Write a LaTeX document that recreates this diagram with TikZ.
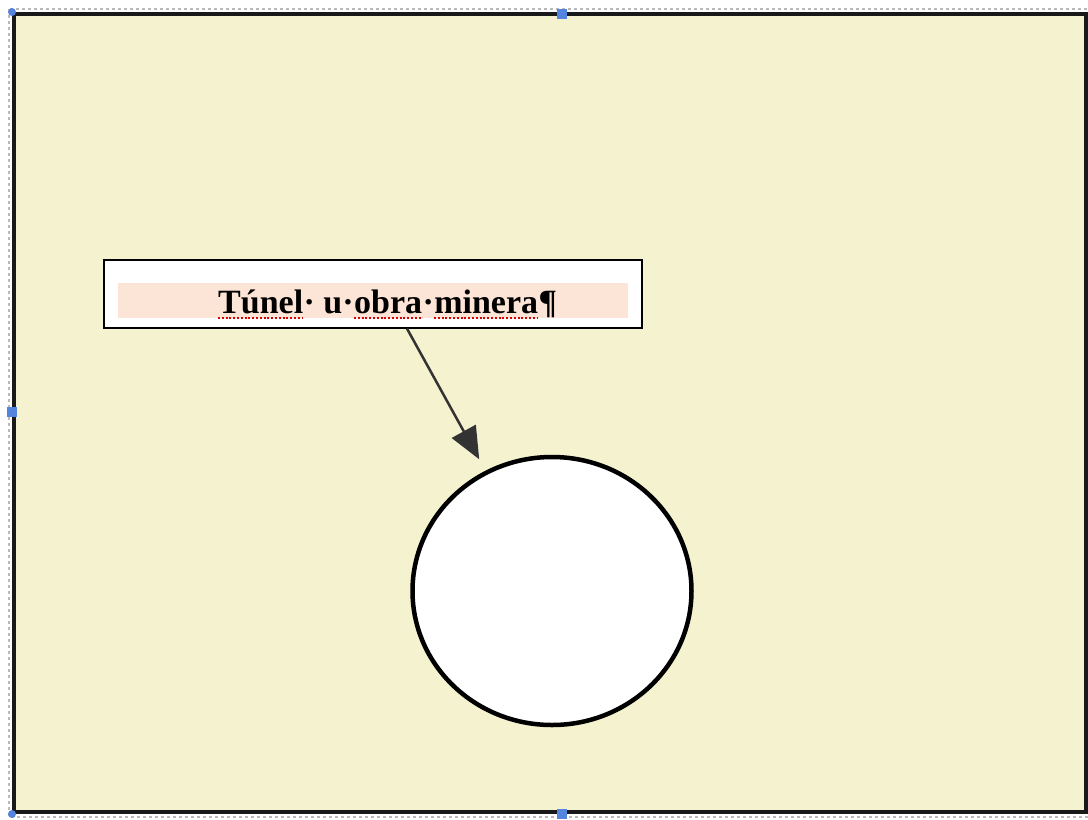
\documentclass[tikz,border=0pt]{standalone}
\usepackage{fontspec}
\setmainfont{Liberation Serif}
\usetikzlibrary{arrows.meta,shapes.geometric}
\definecolor{pagecream}{RGB}{245,242,208}
\definecolor{bandpink}{RGB}{252,228,214}
\definecolor{handleblue}{RGB}{84,132,222}

\begin{document}
\begin{tikzpicture}[x=1pt,y=-1pt,>=stealth,
    word/.style={anchor=base west,inner sep=0pt,font=\fontsize{34}{40}\selectfont\bfseries},
    spell/.style={red!85!black,line width=1.3pt,dash pattern=on 2pt off 1.8pt}]
    \useasboundingbox (0,0) rectangle (1088,820);

    % page frame
    \fill[white] (0,0) rectangle (1088,820);
    \draw[gray!55,dashed,line width=1.5pt] (9,9) rectangle (1090,817);
    \fill[pagecream] (14,14) rectangle (1086,812);
    \draw[black!90,line width=4.5pt] (14,14) rectangle (1086.5,812);

    % selection handles
    \fill[handleblue] (12,12) circle (4);
    \fill[handleblue] (12,814) circle (4);
    \fill[handleblue] (557,9) rectangle (567,19);
    \fill[handleblue] (7,407) rectangle (17,417);
    \fill[handleblue] (557,809) rectangle (567,819);

    % label box
    \node[draw=black,line width=1.2pt,fill=white,minimum width=538pt,minimum height=68pt,inner sep=0pt] (label) at (373,294) {};
    \fill[bandpink] (118,283) rectangle (628,318);
    \node[word] (tunelw) at (218,313) {Túnel};
    \node[word] (dotu) at (tunelw.base east) {· u·};
    \node[word] (obraw) at (dotu.base east) {obra};
    \node[word] (dotm) at (obraw.base east) {·};
    \node[word] (mineraw) at (dotm.base east) {minera};
    \node[word] (pilcrow) at (mineraw.base east) {¶};
    \foreach \w in {tunelw,obraw,mineraw}
        \draw[spell] ([yshift=-5pt]\w.base west) -- ([yshift=-5pt]\w.base east);

    % tunnel section
    \node[ellipse,draw=black,line width=4.5pt,fill=white,minimum width=279pt,minimum height=268pt,inner sep=0pt] (tunnel) at (552,591) {};

    % arrow
    \coordinate (tail) at ([xshift=34pt]label.south);
    \draw[-{Triangle[length=32pt,width=27pt]},line width=2.5pt,black!80,shorten >=13pt] (tail) -- (tunnel);
\end{tikzpicture}
\end{document}
